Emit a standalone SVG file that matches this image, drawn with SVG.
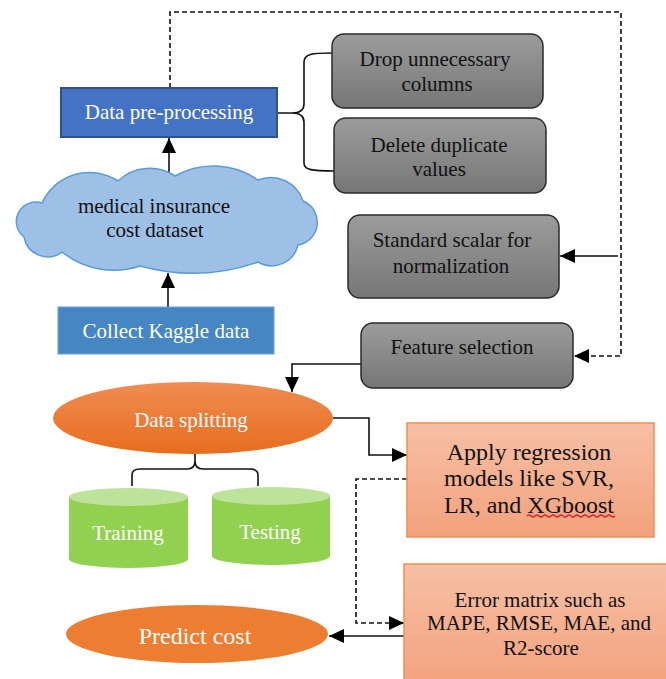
<svg xmlns="http://www.w3.org/2000/svg" width="666" height="679" viewBox="0 0 666 679">
  <defs>
    <linearGradient id="grayFill" x1="0" y1="0" x2="0" y2="1">
      <stop offset="0" stop-color="#9c9c9c"/>
      <stop offset="1" stop-color="#767676"/>
    </linearGradient>
    <linearGradient id="salmonFill" x1="0" y1="0" x2="0" y2="1">
      <stop offset="0" stop-color="#f6c0a5"/>
      <stop offset="1" stop-color="#f3a17c"/>
    </linearGradient>
    <linearGradient id="orangeFill" x1="0" y1="0" x2="0" y2="1">
      <stop offset="0" stop-color="#f08c52"/>
      <stop offset="1" stop-color="#e76d1e"/>
    </linearGradient>
    <marker id="arrow" markerUnits="userSpaceOnUse" markerWidth="16" markerHeight="16" viewBox="0 0 16 16" refX="15" refY="8" orient="auto">
      <path d="M0,1 L15,8 L0,15 Z" fill="#000"/>
    </marker>
    <style>
      .txt { font-family: "Liberation Serif", "Times New Roman", serif; font-size: 21px; text-anchor: middle; }
      .dark { fill: #111; }
      .light { fill: #fff; }
      .big { font-size: 24px; }
      .gray { fill: url(#grayFill); stroke: #2a2a2a; stroke-width: 1.5; }
      .salmon { fill: url(#salmonFill); stroke: #f0904f; stroke-width: 1.5; }
      .conn { fill: none; stroke: #111; stroke-width: 1.6; }
      .dash { stroke-dasharray: 5 3; }
      .tip { marker-end: url(#arrow); }
    </style>
  </defs>

  <!-- connectors -->
  <g id="connectors">
    <path class="conn tip" d="M168,308 L168,273"/>
    <path class="conn tip" d="M169,176 L169,138"/>
    <path class="conn" d="M277,113 L292,113 M332,53 C312,53 304,54 304,62 L304,104 C304,110 300,113 292,113 C300,113 304,116 304,122 L304,163 C304,170 312,171 334,171"/>
    <path class="conn dash tip" d="M170,88 L170,12 L621,12 L621,356 L574,356"/>
    <path class="conn tip" d="M618,256 L560,256"/>
    <path class="conn tip" d="M361,364 L292,364 L292,392"/>
    <path class="conn tip" d="M333,418 L369,418 L369,455 L407,455"/>
    <path class="conn dash tip" d="M407,479 L356,479 L356,623 L404,623"/>
    <path class="conn tip" d="M404,636 L329,636"/>
    <path class="conn" d="M195,454 L195,461 M132,486 L132,475 Q132,469 140,469 L187,469 Q195,469 195,461 Q195,469 203,469 L250,469 Q258,469 258,475 L258,486"/>
  </g>

  <g id="preprocessing">
    <rect x="61" y="88" width="216" height="49" fill="#4472c4" stroke="#2f528f" stroke-width="2"/>
    <text class="txt light" x="169" y="119">Data pre-processing</text>
  </g>

  <g id="dataset">
    <!-- cloud outline built from outward arcs -->
    <path d="M42,203 A52 52 0 0 1 118,181 A46 46 0 0 1 175,176 A78 78 0 0 1 258,180 A34 34 0 0 1 303,201 A23 23 0 0 1 298,245 A27 27 0 0 1 258,262 A198 198 0 0 1 140,266 A83 83 0 0 1 62,252 A24 24 0 0 1 24,237 A19.5 19.5 0 0 1 42,203 Z" fill="#9fc0e6" stroke="#5b9bd5" stroke-width="1.5"/>
    <text class="txt dark" x="154" y="213">medical insurance</text>
    <text class="txt dark" x="155" y="237">cost dataset</text>
  </g>

  <g id="collect">
    <rect x="58" y="307" width="216" height="47" fill="#4686c2" stroke="#6a9fd2" stroke-width="1"/>
    <text class="txt light" x="166" y="338">Collect Kaggle data</text>
  </g>

  <g id="drop-columns">
    <rect class="gray" x="332" y="34" width="211" height="74" rx="12"/>
    <text class="txt dark" x="435" y="66">Drop unnecessary</text>
    <text class="txt dark" x="437" y="91">columns</text>
  </g>

  <g id="delete-duplicates">
    <rect class="gray" x="334" y="118" width="212" height="75" rx="12"/>
    <text class="txt dark" x="439" y="152">Delete duplicate</text>
    <text class="txt dark" x="439" y="176">values</text>
  </g>

  <g id="standard-scalar">
    <rect class="gray" x="348" y="215" width="211" height="83" rx="12"/>
    <text class="txt dark" x="452" y="247">Standard scalar for</text>
    <text class="txt dark" x="451" y="273">normalization</text>
  </g>

  <g id="feature-selection">
    <rect class="gray" x="361" y="323" width="212" height="65" rx="12"/>
    <text class="txt dark" x="462" y="354">Feature selection</text>
  </g>

  <g id="data-splitting">
    <ellipse cx="193" cy="418" rx="140" ry="36" fill="url(#orangeFill)"/>
    <text class="txt light" x="191" y="427">Data splitting</text>
  </g>

  <g id="training">
    <path d="M69,497 L69,559 A59.5 9 0 0 0 188,559 L188,497 Z" fill="#92d050"/>
    <ellipse cx="128.5" cy="497" rx="59.5" ry="9" fill="#bde39a"/>
    <text class="txt light" x="128" y="540">Training</text>
  </g>

  <g id="testing">
    <path d="M212,496 L212,556 A59 9 0 0 0 330,556 L330,496 Z" fill="#92d050"/>
    <ellipse cx="271" cy="496" rx="59" ry="9" fill="#bde39a"/>
    <text class="txt light" x="270" y="539">Testing</text>
  </g>

  <g id="regression-models">
    <rect class="salmon" x="407" y="423" width="247" height="114"/>
    <text class="txt dark big" x="529" y="460">Apply regression</text>
    <text class="txt dark big" x="529" y="486">models like SVR,</text>
    <text class="txt dark big" x="529" y="513">LR, and XGboost</text>
    <path d="M527,516 q2,-2 4,0 t4,0 t4,0 t4,0 t4,0 t4,0 t4,0 t4,0 t4,0 t4,0 t4,0 t4,0 t4,0 t4,0 t4,0 t4,0 t4,0 t4,0 t4,0 t4,0 t4,0 t4,0" fill="none" stroke="#e02020" stroke-width="1.2"/>
  </g>

  <g id="error-metrics">
    <rect class="salmon" x="404" y="564" width="270" height="125"/>
    <text class="txt dark" x="540" y="607">Error matrix such as</text>
    <text class="txt dark" x="539" y="630">MAPE, RMSE, MAE, and</text>
    <text class="txt dark" x="541" y="655">R2-score</text>
  </g>

  <g id="predict-cost">
    <ellipse cx="197" cy="634" rx="131" ry="29" fill="#ed7d31"/>
    <text class="txt light big" x="195" y="644">Predict cost</text>
  </g>
</svg>
